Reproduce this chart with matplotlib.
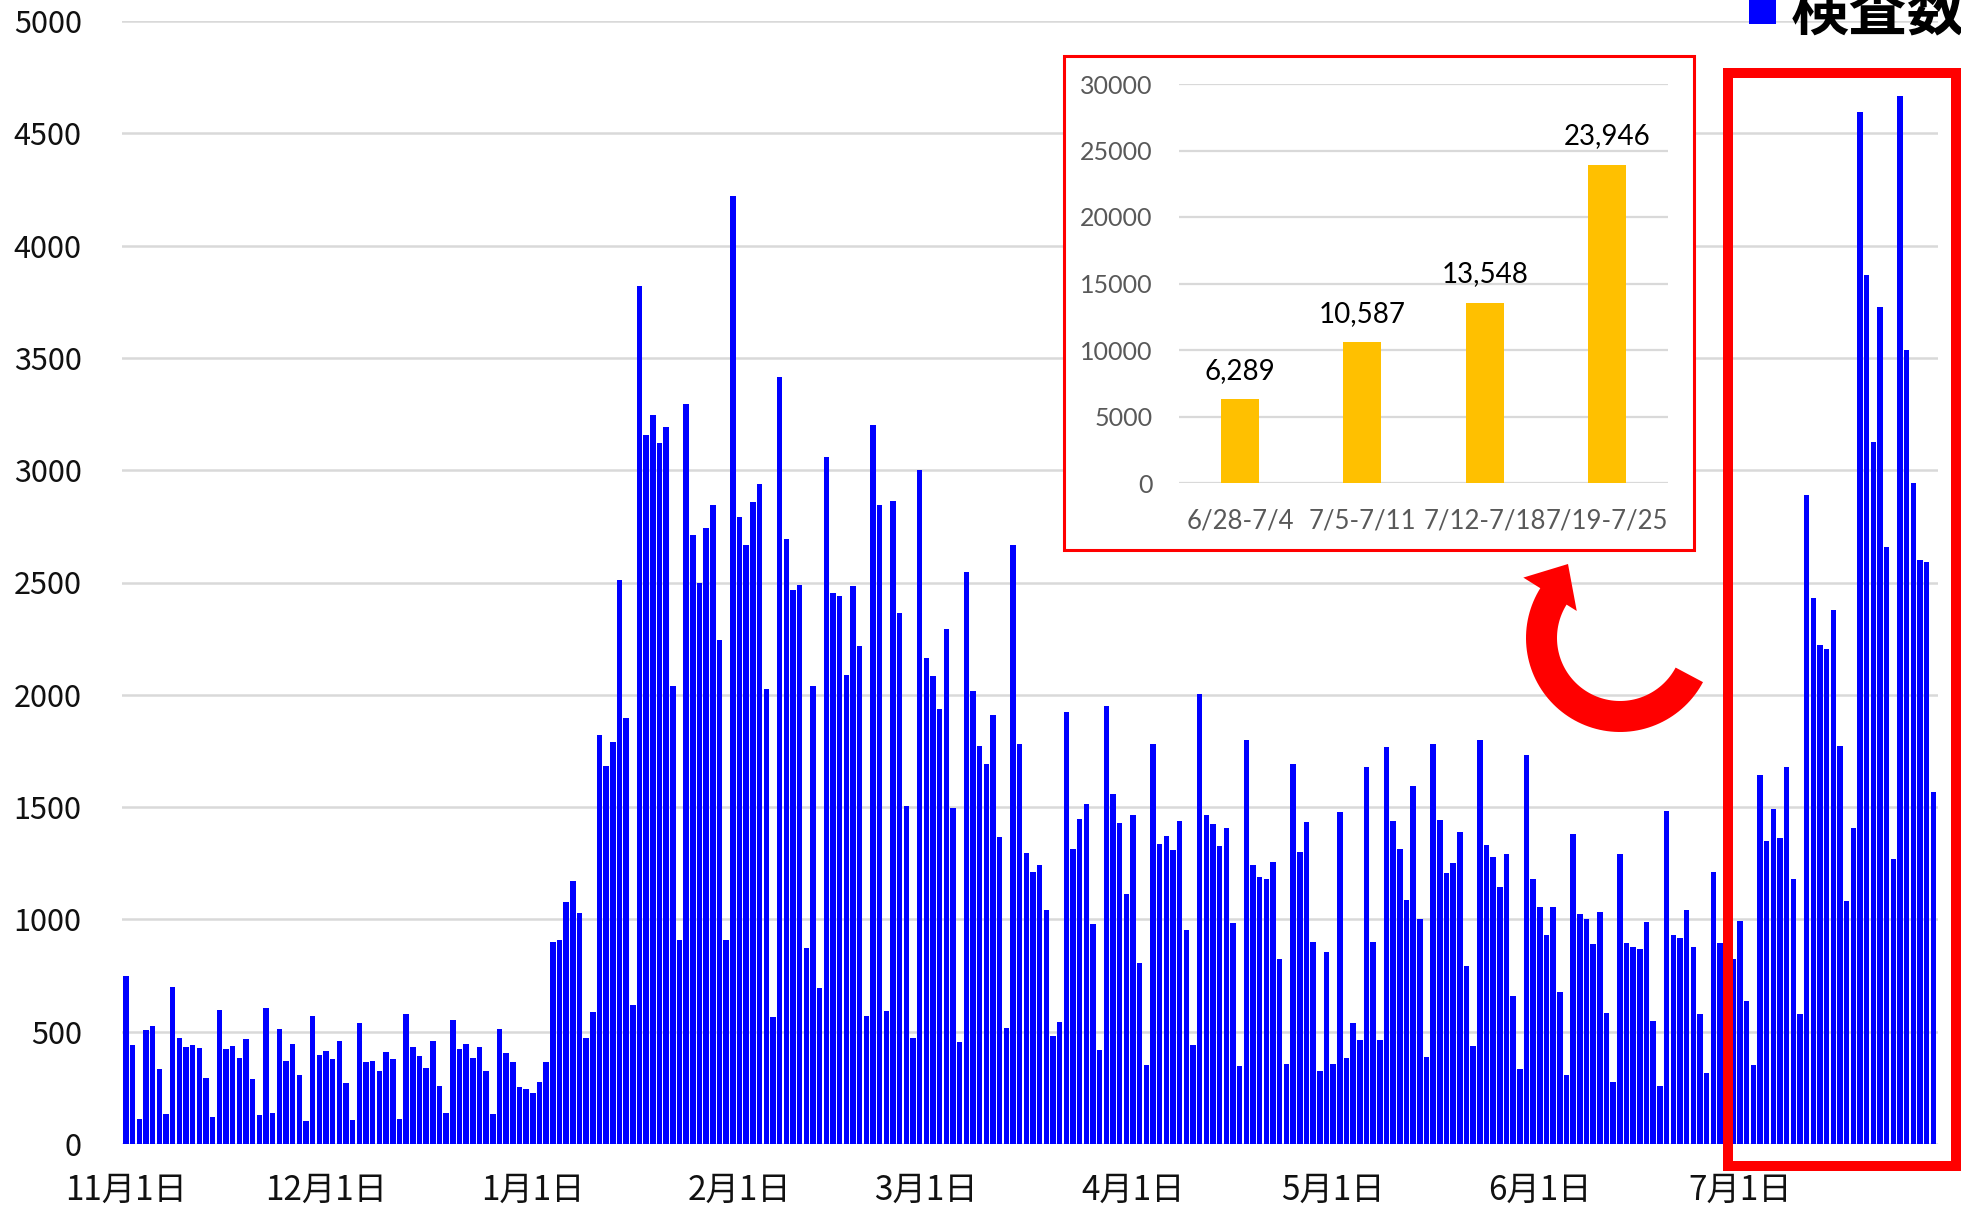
import numpy as np
import pandas as pd
import matplotlib
matplotlib.use('Agg')
from matplotlib import pyplot
from matplotlib.patches import Rectangle, Polygon

# daily test counts (検査数), 2020-11-01 .. 2021-07-30
start_date = '2020-11-01'
tests_nov = [750, 440, 113, 506, 526, 334, 134, 698, 471, 430, 440, 427, 292, 120, 595,
             423, 437, 385, 468, 289, 127, 605, 138, 513, 368, 447, 306, 103, 571, 396]
tests_dec = [416, 378, 458, 272, 107, 539, 364, 370, 325, 410, 380, 111, 578, 434, 392, 337,
             458, 259, 139, 551, 422, 446, 383, 431, 325, 133, 512, 404, 364, 253, 244]
tests_jan = [226, 277, 364, 898, 907, 1078, 1169, 1027, 473, 587, 1819, 1684, 1792, 2512, 1898, 617,
             3822, 3157, 3244, 3120, 3193, 2039, 910, 3295, 2711, 2500, 2741, 2846, 2244, 910, 4223]
tests_feb = [2792, 2666, 2858, 2940, 2024, 566, 3416, 2693, 2467, 2488, 873, 2039, 693, 3057,
             2452, 2440, 2090, 2485, 2217, 572, 3202, 2846, 590, 2861, 2364, 1506, 473, 3000]
tests_mar = [2163, 2084, 1937, 2292, 1494, 452, 2545, 2018, 1771, 1690, 1910, 1367, 518, 2666, 1783, 1295,
             1211, 1241, 1042, 482, 542, 1922, 1313, 1449, 1512, 979, 419, 1949, 1557, 1431, 1114]
tests_apr = [1464, 807, 352, 1783, 1337, 1370, 1307, 1437, 955, 440, 2003, 1464, 1425, 1325, 1407,
             985, 346, 1798, 1241, 1187, 1181, 1256, 822, 356, 1693, 1302, 1434, 898, 326, 854]
tests_may = [356, 1477, 382, 540, 464, 1677, 898, 464, 1769, 1439, 1312, 1088, 1594, 1002, 387, 1779,
             1444, 1205, 1253, 1391, 793, 436, 1797, 1330, 1276, 1144, 1292, 658, 336, 1730, 1180]
tests_jun = [1054, 929, 1054, 675, 307, 1379, 1026, 1000, 890, 1031, 582, 275, 1292, 894, 875,
             870, 987, 546, 260, 1483, 929, 918, 1044, 875, 578, 318, 1212, 894, 953, 823]
tests_jul = [991, 636, 351, 1641, 1348, 1493, 1362, 1679, 1180, 581, 2890, 2432, 2222, 2205, 2377,
             1772, 1084, 1407, 4596, 3870, 3127, 3726, 2656, 1269, 4665, 3536, 2941, 2601, 2590, 1569]

# weekly totals shown in the inset
week_labels = ['6/28-7/4', '7/5-7/11', '7/12-7/18', '7/19-7/25']
week_totals = [6289, 10587, 13548, 23946]

daily_tests = (tests_nov + tests_dec + tests_jan + tests_feb + tests_mar +
               tests_apr + tests_may + tests_jun + tests_jul)
dates = pd.date_range(start_date, periods=len(daily_tests))
x = np.arange(len(daily_tests))
month_starts = np.where(dates.day == 1)[0]
month_labels = [f'{d.month}月1日' for d in dates[month_starts]]

W, H = 1961, 1211
jp_font = ['Noto Sans CJK JP', 'DejaVu Sans']

def frac(px, py):
    # pixel position (from top-left) -> figure fraction
    return px / W, 1 - py / H

fig = pyplot.figure(figsize=(W / 100, H / 100), dpi=100)

# main daily chart
ax = fig.add_axes([122 / W, 1 - 1144 / H, 1816 / W, 1123 / H])
bars = ax.bar(x, daily_tests, width=0.82, color='#0000ff', zorder=2)
ax.set_xlim(-0.6, 271.7)
ax.set_ylim(0, 5000)
ax.set_yticks(np.arange(0, 5001, 500))
ax.set_xticks(month_starts)
ax.set_xticklabels(month_labels)
ax.yaxis.grid(True, color='#d9d9d9', linewidth=1.8)
ax.set_axisbelow(True)
for s in ax.spines.values():
  s.set_visible(False)
ax.tick_params(axis='y', length=0, pad=29, labelsize=22, labelcolor='#111111')
ax.tick_params(axis='x', length=0, pad=21, labelsize=24, labelcolor='#111111')
for lab in ax.get_xticklabels() + ax.get_yticklabels():
  lab.set_family(jp_font)

# legend, partly cut by the top edge as in the original
fig.legend([bars], ['検査数'], loc='center left', bbox_to_anchor=frac(1749, 12),
           frameon=False, handlelength=0.47, handleheight=0.47, handletextpad=0.24,
           borderpad=0, borderaxespad=0,
           prop={'family': jp_font, 'weight': 'bold', 'size': 42})

# inset box
bx0, by1 = frac(1063.5, 549.5)
fig.add_artist(Rectangle((bx0, by1), 630 / W, 494 / H, transform=fig.transFigure,
                         facecolor='white', edgecolor='#ff0000', linewidth=2.2, zorder=2))

iax = fig.add_axes([1179 / W, 1 - 483 / H, 489 / W, 399 / H], zorder=3)
iax.patch.set_alpha(0)
iax.bar(range(len(week_totals)), week_totals, width=0.31, color='#ffc000', zorder=2)
iax.set_xlim(-0.5, 3.5)
iax.set_ylim(0, 30000)
iax.set_yticks(np.arange(0, 30001, 5000))
iax.set_xticks(range(len(week_labels)))
iax.set_xticklabels(week_labels)
iax.yaxis.grid(True, color='#d9d9d9', linewidth=1.6)
iax.set_axisbelow(True)
for s in iax.spines.values():
  s.set_visible(False)
iax.tick_params(axis='y', length=0, pad=19, labelsize=18, labelcolor='#595959')
iax.tick_params(axis='x', length=0, pad=18, labelsize=18.5, labelcolor='#595959')
for lab in iax.get_xticklabels() + iax.get_yticklabels():
  lab.set_family('Lato')
for i, v in enumerate(week_totals):
  iax.annotate(f'{v:,}', (i, v), xytext=(0, 11), textcoords='offset points',
               ha='center', va='bottom', fontsize=20, family='Lato', color='black')

# red frame round the latest weeks
rx0, ry0 = frac(1727.5, 1166)
fig.add_artist(Rectangle((rx0, ry0), 228.5 / W, 1093 / H, transform=fig.transFigure,
                         facecolor='none', edgecolor='#ff0000', linewidth=7.2, zorder=4))

# curved red arrow pointing from the frame to the inset
cx, cy = 1620, 638
ang = np.radians(np.linspace(28, 212, 80))
outer = [frac(cx + 94 * np.cos(a), cy + 94 * np.sin(a)) for a in ang]
inner = [frac(cx + 63 * np.cos(a), cy + 63 * np.sin(a)) for a in ang[::-1]]
a_end = np.radians(212)
head = [frac(cx + 114 * np.cos(a_end), cy + 114 * np.sin(a_end)),
        frac(1568, 564),
        frac(cx + 51 * np.cos(a_end), cy + 51 * np.sin(a_end))]
fig.add_artist(Polygon(outer + head + inner, closed=True, transform=fig.transFigure,
                       facecolor='#ff0000', edgecolor='none', zorder=4))

pyplot.savefig('out.png', dpi=100)
pyplot.close()
